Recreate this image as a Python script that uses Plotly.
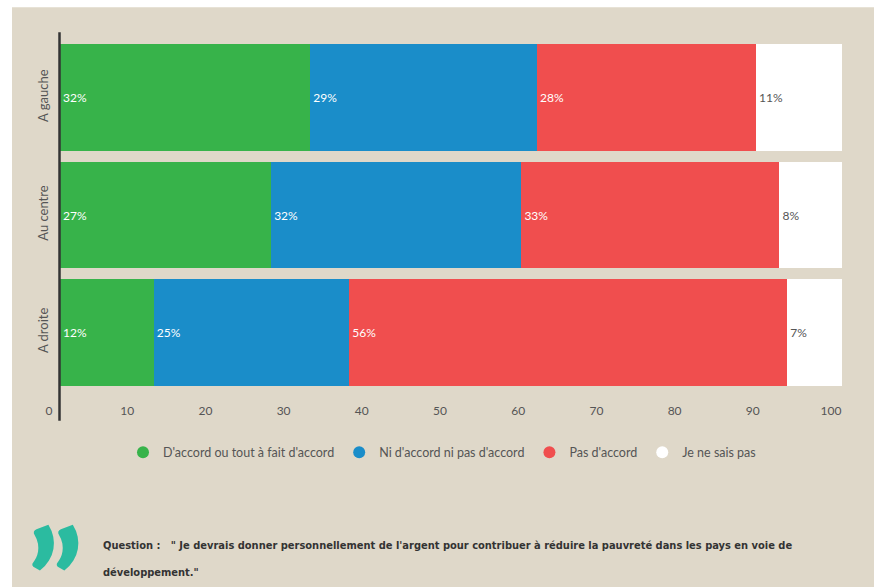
import plotly.graph_objects as go

# Survey answers by political orientation (percent)
groups = ["A gauche", "Au centre", "A droite"]
series_names = [
    "D'accord ou tout à fait d'accord",
    "Ni d'accord ni pas d'accord",
    "Pas d'accord",
    "Je ne sais pas",
]
agree = [32, 27, 12]
neutral = [29, 32, 25]
disagree = [28, 33, 56]
dont_know = [11, 8, 7]
x_ticks = [0, 10, 20, 30, 40, 50, 60, 70, 80, 90, 100]

colors = ["#37B34A", "#1A8DC9", "#F04E4E", "#FFFFFF"]
label_colors = ["#FFFFFF", "#FFFFFF", "#FFFFFF", "#555555"]
bg = "#DFD8C9"

W, H = 874, 587
L, R = 60, 842          # plot area left/right in px
T, B = 38.75, 391.25    # plot area top/bottom in px


def px_x(px):
    return (px - L) / (R - L)


def px_y(py):
    return (B - py) / (B - T)


fig = go.Figure()
for name, vals, col, lcol in zip(series_names, [agree, neutral, disagree, dont_know], colors, label_colors):
    fig.add_trace(go.Bar(
        y=groups, x=vals, orientation="h", name=name,
        marker=dict(color=col, line=dict(width=0)),
        texttemplate="%{x}%", textposition="inside", insidetextanchor="start",
        textfont=dict(color=lcol, size=12, family="Lato, sans-serif"),
        showlegend=False, hoverinfo="skip",
    ))
    # circular legend symbol
    fig.add_trace(go.Scatter(
        x=[None], y=[None], mode="markers", name=name,
        marker=dict(color=col, size=17, symbol="circle", line=dict(width=0)),
        showlegend=True,
    ))

shapes = [
    dict(type="rect", xref="paper", yref="paper", layer="below",
         x0=px_x(12), x1=px_x(W + 2), y0=px_y(7), y1=px_y(H + 2),
         fillcolor=bg, line=dict(width=0)),
    dict(type="line", xref="paper", yref="paper",
         x0=px_x(59.5), x1=px_x(59.5), y0=px_y(32), y1=px_y(421),
         line=dict(color="#333333", width=2.5)),
]

q_font = dict(size=11, color="#333333", family="DejaVu Sans Condensed, Liberation Sans, sans-serif")
annotations = [
    dict(xref="paper", yref="paper", x=px_x(55), y=px_y(492), xanchor="center", yanchor="top",
         text="”", showarrow=False,
         font=dict(size=142, color="#2BBBA0", family="Lato", weight=900)),
    dict(xref="paper", yref="paper", x=px_x(101), y=px_y(546), xanchor="left", yanchor="middle",
         text="<b>Question :   \" Je devrais donner personnellement de l'argent pour contribuer à réduire la pauvreté dans les pays en voie de</b>",
         showarrow=False, font=q_font),
    dict(xref="paper", yref="paper", x=px_x(101), y=px_y(573), xanchor="left", yanchor="middle",
         text="<b>développement.\"</b>",
         showarrow=False, font=q_font),
]

fig.update_layout(
    width=W, height=H, autosize=False,
    margin=dict(l=L, r=W - R, t=T, b=H - B, pad=0),
    barmode="stack", bargap=0.09,
    paper_bgcolor="#FFFFFF", plot_bgcolor="rgba(0,0,0,0)",
    font=dict(family="Lato, sans-serif", color="#555555", size=12),
    xaxis=dict(range=[0, 100], tickvals=x_ticks, showgrid=False, zeroline=False,
               showline=False, ticks="", ticklabelshift=-11, ticklabelstandoff=11,
               tickfont=dict(size=12, color="#555555"), fixedrange=True),
    yaxis=dict(categoryorder="array", categoryarray=groups, autorange="reversed",
               showgrid=False, zeroline=False, showline=False, ticks="",
               tickangle=-90, ticklabelstandoff=8,
               tickfont=dict(size=13, color="#555555"), fixedrange=True),
    legend=dict(orientation="h", x=px_x(442), y=px_y(453), xanchor="center", yanchor="middle",
                font=dict(size=12.5, color="#555555"), bgcolor="rgba(0,0,0,0)",
                itemsizing="constant", traceorder="normal"),
    shapes=shapes,
    annotations=annotations,
)

fig.write_html("out.html")
